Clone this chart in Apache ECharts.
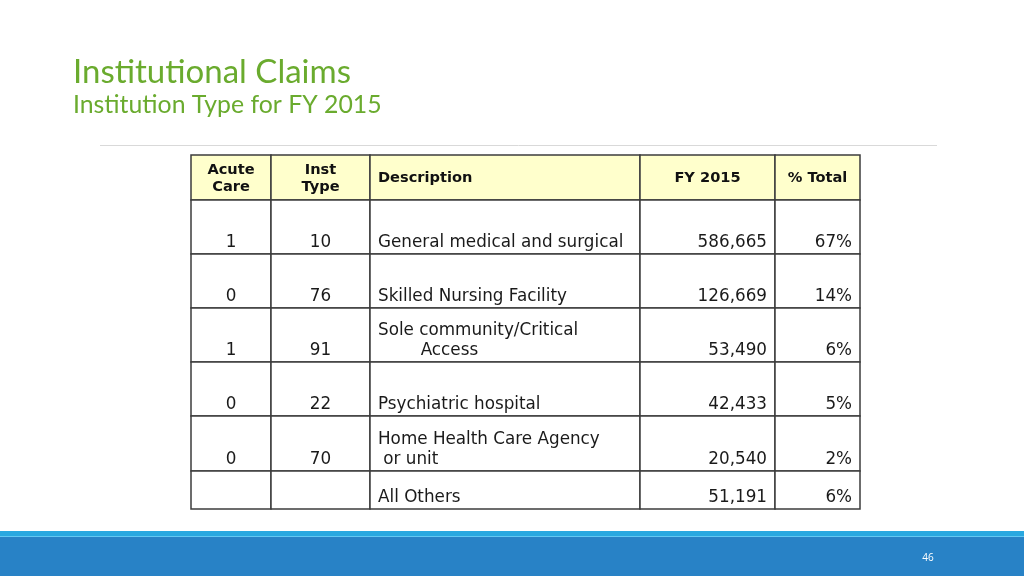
<!DOCTYPE html>
<html>
<head>
<meta charset="utf-8">
<script src="https://cdn.jsdelivr.net/npm/echarts@6/dist/echarts.min.js"></script>
<style>
  html, body { margin: 0; padding: 0; background: #ffffff; }
  #chart { width: 1024px; height: 576px; }
</style>
</head>
<body>
<div id="chart"></div>
<script>
// ---- Data ----
const headers = ['Acute\nCare', 'Inst\nType', 'Description', 'FY 2015', '% Total'];
const acuteCare = ['1', '0', '1', '0', '0', ''];
const instType = ['10', '76', '91', '22', '70', ''];
const descriptions = [
  'General medical and surgical',
  'Skilled Nursing Facility',
  'Sole community/Critical\n        Access',
  'Psychiatric hospital',
  'Home Health Care Agency\n or unit',
  'All Others'
];
const fy2015 = [586665, 126669, 53490, 42433, 20540, 51191];
const pctTotal = [67, 14, 6, 5, 2, 6];

// ---- Layout (axis units) ----
const colEdges = [0, 80, 179, 449, 584, 669];
const rowEdges = [0, 45, 99, 153, 207, 261, 316, 354];
const GREEN = '#6aab2e';
const BODY_FONT = 'DejaVu Sans, Verdana, sans-serif';

function cellText(row, col) {
  if (row === 0) return headers[col];
  const i = row - 1;
  switch (col) {
    case 0: return acuteCare[i];
    case 1: return instType[i];
    case 2: return descriptions[i];
    case 3: return fy2015[i].toLocaleString('en-US');
    case 4: return pctTotal[i] + '%';
  }
}

const rowData = [];
for (let r = 0; r < rowEdges.length - 1; r++) rowData.push([r]);

function renderItem(params, api) {
  const r = api.value(0);
  const top = rowEdges[r], bottom = rowEdges[r + 1];
  const children = [];
  for (let c = 0; c < colEdges.length - 1; c++) {
    const p0 = api.coord([colEdges[c], top]);
    const p1 = api.coord([colEdges[c + 1], bottom]);
    const x = p0[0], y = p0[1], w = p1[0] - p0[0], h = p1[1] - p0[1];
    children.push({
      type: 'rect',
      shape: { x: x, y: y, width: w, height: h },
      style: { fill: r === 0 ? '#ffffcc' : '#ffffff', stroke: '#3c3c3c', lineWidth: 1.5 }
    });
    const txt = cellText(r, c);
    if (!txt) continue;
    let tx, align;
    if (r === 0) {
      if (c === 2) { tx = x + 8; align = 'left'; }
      else { tx = x + w / 2; align = 'center'; }
      children.push({
        type: 'text',
        style: {
          text: txt, x: tx, y: y + h / 2 + 1, align: align, verticalAlign: 'middle',
          fontFamily: BODY_FONT, fontWeight: 'bold', fontSize: 14.6, lineHeight: 17, fill: '#111'
        }
      });
    } else {
      if (c === 0 || c === 1) { tx = x + w / 2; align = 'center'; }
      else if (c === 2) { tx = x + 8; align = 'left'; }
      else { tx = x + w - 8; align = 'right'; }
      children.push({
        type: 'text',
        style: {
          text: txt, x: tx, y: y + h - 1.5, align: align, verticalAlign: 'bottom',
          fontFamily: BODY_FONT, fontSize: 16.8, lineHeight: 20, fill: '#1a1a1a'
        }
      });
    }
  }
  return { type: 'group', children: children };
}

const chart = echarts.init(document.getElementById('chart'), null, { renderer: 'canvas' });
chart.setOption({
  animation: false,
  backgroundColor: '#ffffff',
  grid: { left: 191, top: 155, width: 669, height: 354 },
  xAxis: { type: 'value', min: 0, max: 669, show: false },
  yAxis: { type: 'value', min: 0, max: 354, inverse: true, show: false },
  graphic: [
    { type: 'text', left: 73, top: 56,
      style: { text: 'Institutional Claims', fill: GREEN, font: '33px Lato, sans-serif' } },
    { type: 'text', left: 73, top: 93,
      style: { text: 'Institution Type for FY 2015', fill: GREEN, font: '24.8px Lato, sans-serif' } },
    { type: 'line', shape: { x1: 100, y1: 145.5, x2: 937, y2: 145.5 },
      style: { stroke: '#d9d9d9', lineWidth: 1 } },
    { type: 'rect', shape: { x: 0, y: 531, width: 1024, height: 45 }, style: { fill: '#2882c6' } },
    { type: 'rect', shape: { x: 0, y: 531, width: 1024, height: 5 }, style: { fill: '#29a8e0' } },
    { type: 'rect', shape: { x: 0, y: 536, width: 1024, height: 1 }, style: { fill: '#62c8f2' } },
    { type: 'text', x: 928, y: 558,
      style: { text: '46', fill: '#ffffff', font: '10px "Open Sans", sans-serif', align: 'center', verticalAlign: 'middle' } }
  ],
  series: [{
    type: 'custom',
    coordinateSystem: 'cartesian2d',
    renderItem: renderItem,
    data: rowData,
    silent: true
  }]
});
</script>
</body>
</html>
